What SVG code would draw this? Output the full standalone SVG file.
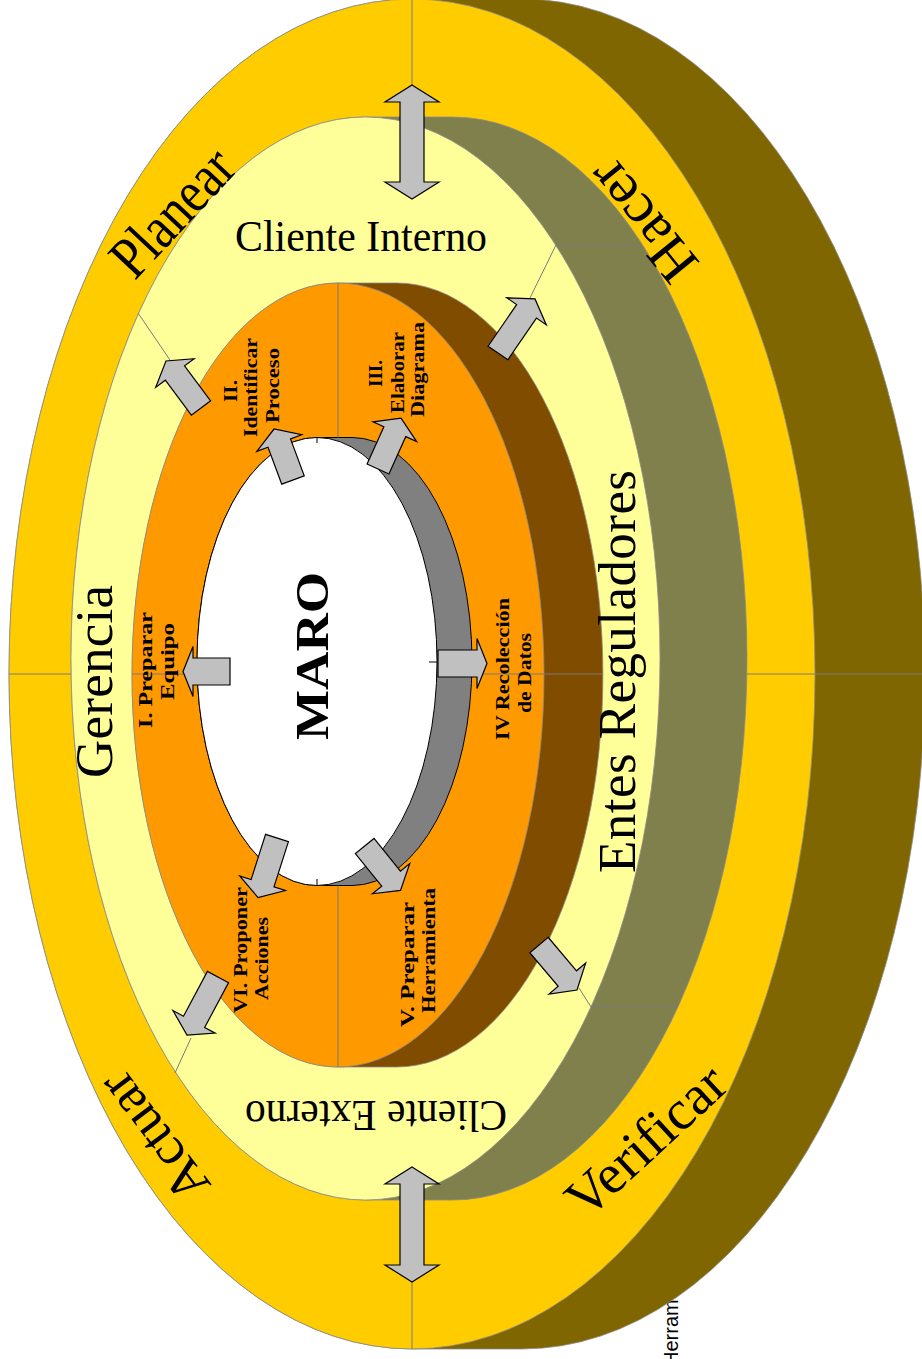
<svg xmlns="http://www.w3.org/2000/svg" width="922" height="1359" viewBox="0 0 922 1359">
  <style>
    .face { stroke: #8c8c8c; stroke-width: 0.8; }
    .side { stroke: #8c8c8c; stroke-width: 0.8; }
    .div { fill: none; stroke: #7a7a7a; stroke-width: 1; }
    .tick { fill: none; stroke: #000; stroke-width: 1; }
    .arrow { fill: #C0C0C0; stroke: #000; stroke-width: 1.2; stroke-linejoin: miter; }
    .big { font-family: "Liberation Serif", "Times New Roman", serif; fill: #000; }
    .step { font-family: "Liberation Serif", "Times New Roman", serif; font-weight: bold; font-size: 18px; fill: #000; text-anchor: middle; }
  </style>

  <rect x="0" y="0" width="922" height="1359" fill="#fff"/>

  <!-- partly hidden caption behind the outer disc -->
  <text transform="translate(678,1366) rotate(-90)" font-family="'Liberation Sans', Arial, sans-serif" font-size="20" fill="#000">Herram</text>

  <!-- outer disc: PDCA cycle -->
  <g id="ring-outer">
    <path class="side" fill="#806600" d="M412,-1 H522 A403,675 0 0 1 522,1349 H412 A403,675 0 0 1 412,-1 Z"/>
    <ellipse class="face" cx="412" cy="674" rx="403" ry="675" fill="#FFCC00"/>
  </g>

  <!-- middle disc: stakeholders -->
  <g id="ring-middle">
    <path class="side" fill="#80804D" d="M365.5,117 H452.5 A294.5,541.5 0 0 1 452.5,1200 H365.5 A294.5,541.5 0 0 1 365.5,117 Z"/>
    <ellipse class="face" cx="365.5" cy="658.5" rx="294.5" ry="541.5" fill="#FFFF99"/>
  </g>

  <!-- inner ring: MARO steps -->
  <g id="ring-inner">
    <path class="side" fill="#804C00" d="M338,283 H397 A206,392 0 0 1 397,1067 H338 A206,392 0 0 1 338,283 Z"/>
    <ellipse class="face" cx="338" cy="675" rx="206" ry="392" fill="#FF9900"/>
  </g>

  <!-- central hole -->
  <g id="hole">
    <path fill="#808080" stroke="#000" stroke-width="1" d="M317,437.5 H352 A120,224 0 0 1 352,885.5 H317 A120,224 0 0 1 317,437.5 Z"/>
    <ellipse cx="317" cy="661.5" rx="120" ry="224" fill="#fff" stroke="#000" stroke-width="1"/>
    <path class="tick" d="M317,437.5 V443 M317,885.5 V879 M437,662 H429"/>
  </g>

  <!-- segment divider lines -->
  <g id="dividers">
    <path class="div" d="M412,-1 V85 M412,1282 V1349 M9,674 H71 M747,674 H922"/>
    <path class="div" d="M138,313 L172,363 M529,300 L556,245 H641 M579,988 L591,1007 H678 M191,1038 L175,1073"/>
    <path class="div" d="M338,283 V437.5 M338,885.5 V1067 M132,674 H197 M472,674 H603"/>
  </g>

  <!-- flow arrows -->
  <g id="connectors">
    <path class="arrow" d="M412,85 L439,102 H424 V182 H439 L412,199 L385,182 H400 V102 H385 Z"/>
    <path class="arrow" d="M412,1167 L439,1184 H424 V1265 H439 L412,1282 L385,1265 H400 V1184 H385 Z"/>
    <path class="arrow" transform="translate(201,408) rotate(-126.7)" d="M0,-12 H43.6 V-24 L58.6,0 L43.6,24 V12 H0 Z"/>
    <path class="arrow" transform="translate(498,353) rotate(-55.6)" d="M0,-12 H50.5 V-24 L65.5,0 L50.5,24 V12 H0 Z"/>
    <path class="arrow" transform="translate(539,945) rotate(49.8)" d="M0,-12 H43.9 V-24 L58.9,0 L43.9,24 V12 H0 Z"/>
    <path class="arrow" transform="translate(218,977) rotate(118.1)" d="M0,-12 H50.8 V-24 L65.8,0 L50.8,24 V12 H0 Z"/>
    <path class="arrow" transform="translate(293,480) rotate(-110.4)" d="M0,-12 H39.4 V-24 L54.4,0 L39.4,24 V12 H0 Z"/>
    <path class="arrow" transform="translate(378,469) rotate(-65.7)" d="M0,-12 H40.9 V-24 L55.9,0 L40.9,24 V12 H0 Z"/>
    <path class="arrow" transform="translate(364.7,846) rotate(51.1)" d="M0,-12 H42 V-24 L57,0 L42,24 V12 H0 Z"/>
    <path class="arrow" transform="translate(277,838) rotate(107.7)" d="M0,-12 H47.5 V-24 L62.5,0 L47.5,24 V12 H0 Z"/>
    <path class="arrow" transform="translate(230,671.5) rotate(180)" d="M0,-13.5 H37 V-25 L47,0 L37,25 V13.5 H0 Z"/>
    <path class="arrow" transform="translate(438,663.5)" d="M0,-13.5 H39 V-25 L49,0 L39,25 V13.5 H0 Z"/>
  </g>

  <!-- PDCA labels -->
  <g id="label-planear"><text class="big" font-size="60" text-anchor="middle" transform="translate(173.5,213.5) rotate(-47)" y="18" textLength="152" lengthAdjust="spacingAndGlyphs">Planear</text></g>
  <g id="label-hacer"><text class="big" font-size="58" text-anchor="middle" transform="translate(644,220) rotate(-129)" y="17">Hacer</text></g>
  <g id="label-verificar"><text class="big" font-size="56" text-anchor="middle" transform="translate(647,1142) rotate(-42.6)" y="17">Verificar</text></g>
  <g id="label-actuar"><text class="big" font-size="54" text-anchor="middle" transform="translate(155,1136) rotate(-127)" y="16">Actuar</text></g>

  <!-- stakeholder labels -->
  <g id="label-cliente-interno"><text class="big" font-size="45" text-anchor="middle" x="361" y="251" textLength="252" lengthAdjust="spacingAndGlyphs">Cliente Interno</text></g>
  <g id="label-cliente-externo"><text class="big" font-size="45" text-anchor="middle" transform="translate(376,1101) rotate(180)" textLength="262" lengthAdjust="spacingAndGlyphs">Cliente Externo</text></g>
  <g id="label-gerencia"><text class="big" font-size="53" text-anchor="middle" transform="translate(112,681.5) rotate(-90)" textLength="193" lengthAdjust="spacing">Gerencia</text></g>
  <g id="label-entes"><text class="big" font-size="53" text-anchor="middle" transform="translate(635,671.5) rotate(-90)" textLength="403" lengthAdjust="spacing">Entes Reguladores</text></g>

  <!-- centre -->
  <g id="label-maro"><text class="big" font-size="46" font-weight="bold" text-anchor="middle" transform="translate(328,656) rotate(-90)" textLength="168" lengthAdjust="spacingAndGlyphs">MARO</text></g>

  <!-- MARO steps -->
  <g id="step-1">
    <text class="step" transform="translate(152,670) rotate(-90)" textLength="116" lengthAdjust="spacingAndGlyphs">I. Preparar</text>
    <text class="step" transform="translate(173.6,661.5) rotate(-90)" textLength="77" lengthAdjust="spacingAndGlyphs">Equipo</text>
  </g>
  <g id="step-2">
    <text class="step" transform="translate(237,391) rotate(-90)" textLength="22" lengthAdjust="spacingAndGlyphs">II.</text>
    <text class="step" transform="translate(257,387.5) rotate(-90)" textLength="99" lengthAdjust="spacingAndGlyphs">Identificar</text>
    <text class="step" transform="translate(278.6,385.5) rotate(-90)" textLength="75" lengthAdjust="spacingAndGlyphs">Proceso</text>
  </g>
  <g id="step-3">
    <text class="step" transform="translate(382,373.5) rotate(-90)" textLength="27" lengthAdjust="spacingAndGlyphs">III.</text>
    <text class="step" transform="translate(404,372.5) rotate(-90)" textLength="81" lengthAdjust="spacingAndGlyphs">Elaborar</text>
    <text class="step" transform="translate(424,369.5) rotate(-90)" textLength="95" lengthAdjust="spacingAndGlyphs">Diagrama</text>
  </g>
  <g id="step-4">
    <text class="step" transform="translate(509,669) rotate(-90)" textLength="142" lengthAdjust="spacingAndGlyphs">IV Recolección</text>
    <text class="step" transform="translate(530.5,673) rotate(-90)" textLength="80" lengthAdjust="spacingAndGlyphs">de Datos</text>
  </g>
  <g id="step-5">
    <text class="step" transform="translate(414,964.5) rotate(-90)" textLength="125" lengthAdjust="spacingAndGlyphs">V. Preparar</text>
    <text class="step" transform="translate(435,950.5) rotate(-90)" textLength="125" lengthAdjust="spacingAndGlyphs">Herramienta</text>
  </g>
  <g id="step-6">
    <text class="step" transform="translate(247,950) rotate(-90)" textLength="126" lengthAdjust="spacingAndGlyphs">VI. Proponer</text>
    <text class="step" transform="translate(268,958.5) rotate(-90)" textLength="83" lengthAdjust="spacingAndGlyphs">Acciones</text>
  </g>
</svg>
